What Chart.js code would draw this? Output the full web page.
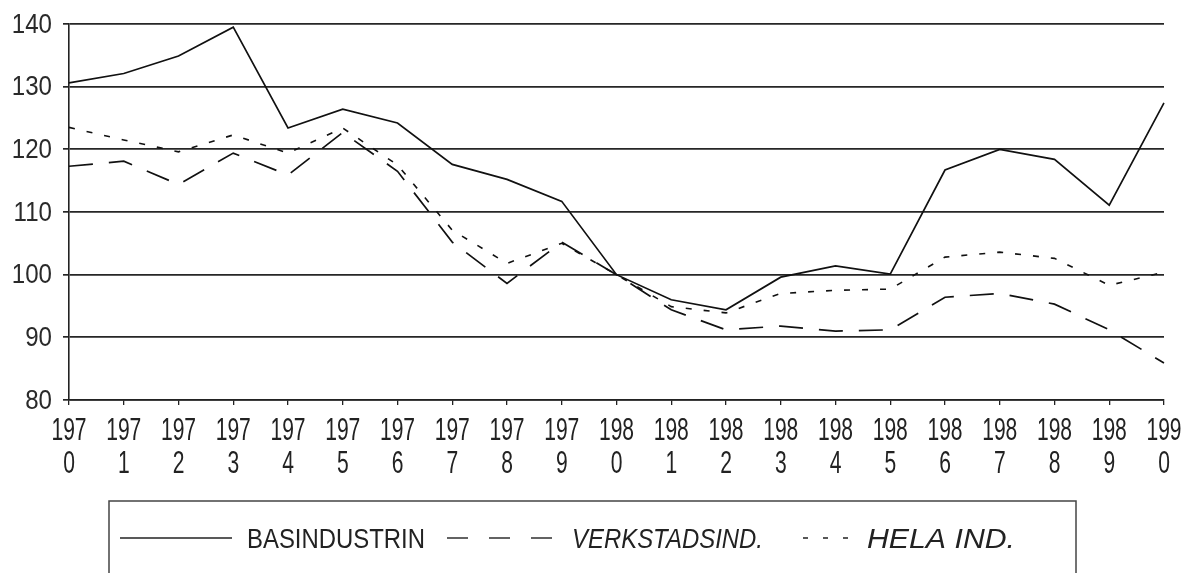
<!DOCTYPE html>
<html>
<head>
<meta charset="utf-8">
<script src="https://cdn.jsdelivr.net/npm/chart.js@4/dist/chart.umd.min.js"></script>
<style>
  html, body { margin: 0; padding: 0; background: #fff; }
  #wrap { width: 1188px; height: 573px; position: relative; }
</style>
</head>
<body>
<div id="wrap"><canvas id="myChart"></canvas></div>
<script>
// years split in two rows like the original (197 / 0)
const years = ['1970','1971','1972','1973','1974','1975','1976','1977','1978','1979','1980',
  '1981','1982','1983','1984','1985','1986','1987','1988','1989','1990'];
const yTicks = [80, 90, 100, 110, 120, 130, 140];

const basindustrin = [130.6, 132.1, 134.9, 139.5, 123.4, 126.4, 124.2, 117.6, 115.2, 111.7, 100,
  96.0, 94.4, 99.6, 101.4, 100.1, 116.7, 120.0, 118.4, 111.1, 127.4];
const verkstadsind = [117.3, 118.1, 114.4, 119.4, 115.9, 122.7, 116.5, 105.2, 98.6, 105.2, 100,
  94.4, 91.2, 91.8, 91.0, 91.2, 96.4, 97.0, 95.3, 91.2, 85.9];
const helaInd = [123.5, 121.5, 119.6, 122.3, 119.4, 123.4, 117.5, 107.1, 101.8, 105.0, 100,
  94.9, 93.9, 97.0, 97.5, 97.7, 102.8, 103.6, 102.6, 98.3, 100.4];

const seriesNames = ['BASINDUSTRIN', 'VERKSTADSIND.', 'HELA IND.'];

const fontFam = "'Liberation Sans', Arial, sans-serif";

// draw text squeezed horizontally, the scan uses a tall narrow face
function narrowText(c, txt, x, y, sx, align) {
  const w = c.measureText(txt).width * sx;
  let x0 = x;
  if (align === 'center') x0 = x - w / 2;
  if (align === 'right') x0 = x - w;
  c.save();
  c.translate(x0, y);
  c.scale(sx, 1);
  c.textAlign = 'left';
  c.fillText(txt, 0, 0);
  c.restore();
}

// tick labels by hand so they can be narrowed
const narrowTicks = {
  id: 'narrowTicks',
  afterDraw(chart) {
    const c = chart.ctx;
    const xs = chart.scales.x, ys = chart.scales.y;
    c.save();
    c.textBaseline = 'middle';
    c.fillStyle = '#2a2a2a';
    c.font = '28px ' + fontFam;
    yTicks.forEach(v => {
      narrowText(c, String(v), 52, ys.getPixelForValue(v) + 1, 0.86, 'right');
    });
    c.fillStyle = '#222';
    c.font = '31px ' + fontFam;
    chart.data.labels.forEach((lab, i) => {
      const px = xs.getPixelForValue(i);
      narrowText(c, lab[0], px, 431, 0.68, 'center');
      narrowText(c, lab[1], px, 464, 0.68, 'center');
    });
    c.restore();
  }
};

// legend box drawn by hand, the built in one has no frame
const boxLegend = {
  id: 'boxLegend',
  afterDraw(chart) {
    const c = chart.ctx;
    c.save();
    c.strokeStyle = '#444';
    c.lineWidth = 1.5;
    c.strokeRect(109, 501, 967, 100);
    const y = 538;
    const items = [
      { x1: 120, x2: 232, tx: 247, tw: 178, dash: [] },
      { x1: 447, x2: 553, tx: 572, tw: 191, dash: [21, 21] },
      { x1: 803, x2: 850, tx: 867, tw: 148, dash: [5, 15] }
    ];
    chart.data.datasets.forEach((ds, i) => {
      const it = items[i];
      c.beginPath();
      c.setLineDash(it.dash);
      c.strokeStyle = '#222';
      c.lineWidth = 1.4;
      c.moveTo(it.x1, y);
      c.lineTo(it.x2, y);
      c.stroke();
      c.setLineDash([]);
      c.fillStyle = '#222';
      c.font = (i === 0 ? '' : 'italic ') + '28px ' + fontFam;
      c.textBaseline = 'middle';
      const w = c.measureText(ds.label).width;
      narrowText(c, ds.label, it.tx, y + 2, it.tw / w, 'left');
    });
    c.restore();
  }
};

const data = {
  labels: years.map(y => [y.slice(0, 3), y.slice(3)]),
  datasets: [
    { label: seriesNames[0], data: basindustrin, borderColor: '#111', borderWidth: 1.7,
      pointRadius: 0, tension: 0, fill: false },
    { label: seriesNames[1], data: verkstadsind, borderColor: '#111', borderWidth: 1.7,
      borderDash: [24, 16], pointRadius: 0, tension: 0, fill: false },
    { label: seriesNames[2], data: helaInd, borderColor: '#111', borderWidth: 1.6,
      borderDash: [6, 12], pointRadius: 0, tension: 0, fill: false }
  ]
};

const config = {
  type: 'line',
  data,
  options: {
    responsive: true,
    maintainAspectRatio: false,
    animation: false,
    layout: { padding: { top: 24, right: 24, bottom: 168, left: 63 } },
    plugins: {
      legend: { display: false },
      tooltip: { enabled: false }
    },
    scales: {
      x: {
        offset: false,
        grid: { display: true, drawOnChartArea: false, drawTicks: true, tickLength: 5, color: '#222', lineWidth: 1.3 },
        border: { display: true, color: '#222', width: 1.6 },
        ticks: { display: false, autoSkip: false }
      },
      y: {
        min: 80, max: 140,
        afterBuildTicks: axis => { axis.ticks = yTicks.map(v => ({ value: v })); },
        grid: { color: '#262626', lineWidth: 1.7, tickLength: 6 },
        border: { display: true, color: '#222', width: 1.6 },
        ticks: { display: false }
      }
    }
  },
  plugins: [narrowTicks, boxLegend]
};

const myChart = new Chart(document.getElementById('myChart'), config);
</script>
</body>
</html>
